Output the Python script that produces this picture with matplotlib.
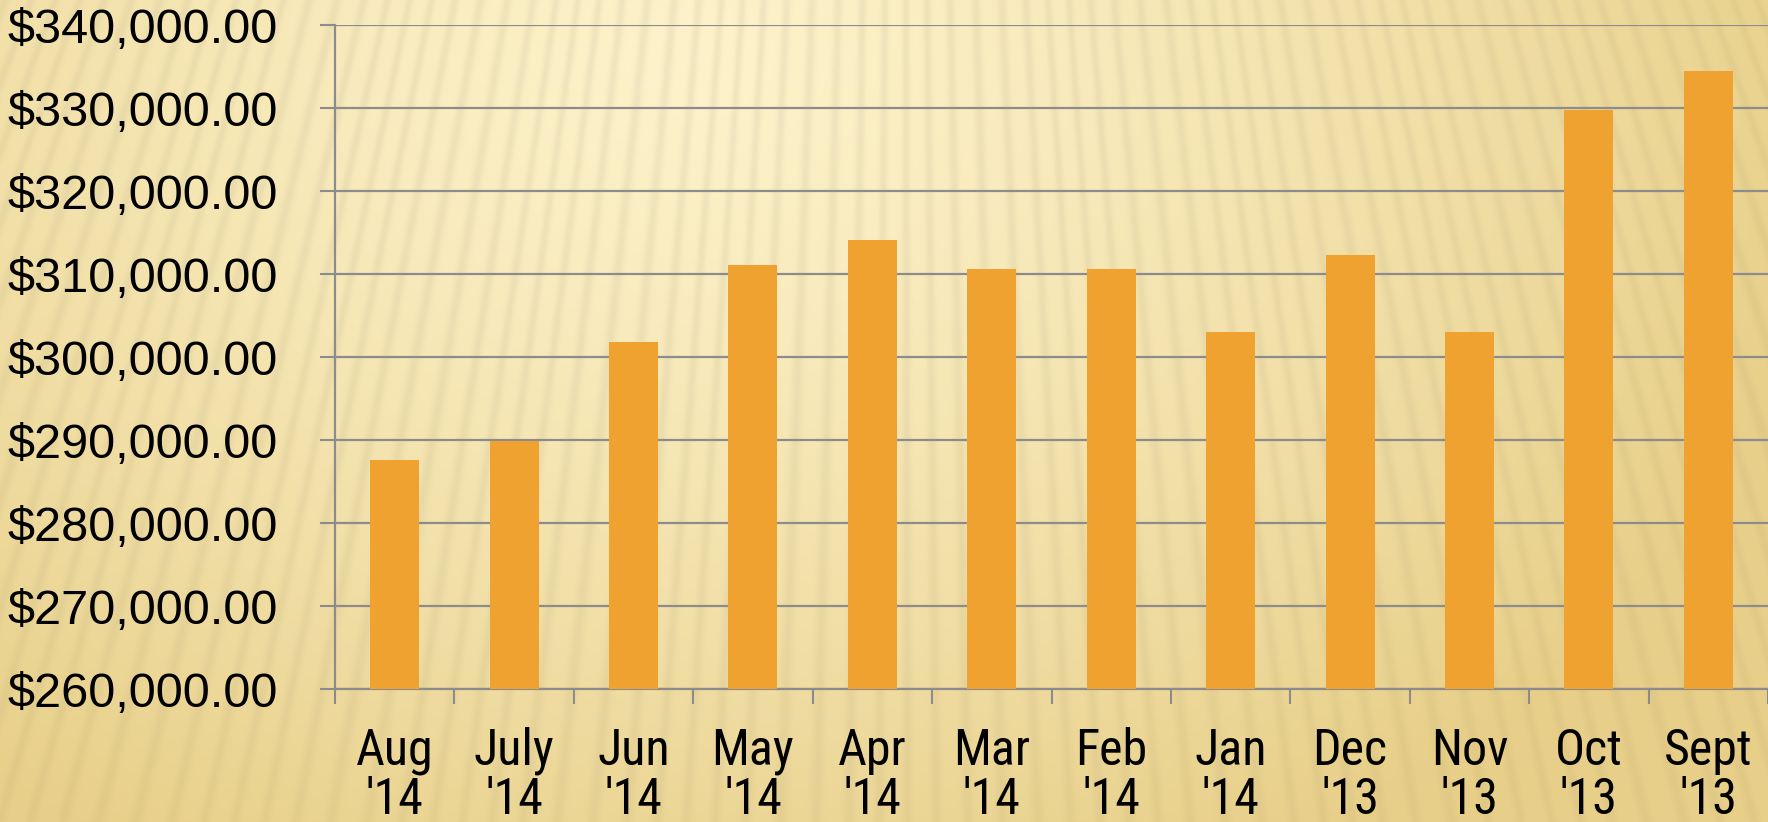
import numpy as np
import matplotlib
matplotlib.use("Agg")
import matplotlib.pyplot as plt
from matplotlib import font_manager as fm
from matplotlib.ticker import FuncFormatter

months = ["Aug\n'14", "July\n'14", "Jun\n'14", "May\n'14", "Apr\n'14", "Mar\n'14",
          "Feb\n'14", "Jan\n'14", "Dec\n'13", "Nov\n'13", "Oct\n'13", "Sept\n'13"]
values = [287550, 289880, 301770, 311040, 314130, 310640,
          310600, 303050, 312240, 303050, 329760, 334420]
y_ticks = [260000, 270000, 280000, 290000, 300000, 310000, 320000, 330000, 340000]

def pick(names):
    for n in names:
        try:
            fm.findfont(fm.FontProperties(family=n), fallback_to_default=False)
            return n
        except Exception:
            pass
    return "DejaVu Sans"

narrow = pick(["Liberation Sans Narrow", "Roboto Condensed", "Open Sans Condensed", "Liberation Sans"])
regular = pick(["Liberation Sans", "Arial", "DejaVu Sans"])

W, H = 1768, 822
fig = plt.figure(figsize=(W / 100, H / 100), dpi=100)

# background: warm glow with faint light rays
yy, xx = np.mgrid[0:H, 0:W].astype(float)
cx, cy = 700.0, 60.0
r = np.sqrt(((xx - cx) / 1150.0) ** 2 + ((yy - cy) / 900.0) ** 2)
t = np.clip(r, 0, 1) ** 1.3
light = np.array([253, 242, 202]) / 255.0
dark = np.array([232, 208, 138]) / 255.0
img = light[None, None, :] * (1 - t[..., None]) + dark[None, None, :] * t[..., None]
sx, sy = 900.0, -2300.0
theta = np.arctan2(xx - sx, yy - sy)
s = 0.5 + 0.5 * np.sin(theta * 620.0 + 0.8 * np.sin(theta * 90.0))
s = s ** 3
amp = 0.03 + 0.02 * (1 - t)
img = img * (1 - amp[..., None] * s[..., None])
bg = fig.add_axes([0, 0, 1, 1])
bg.imshow(np.clip(img, 0, 1), aspect="auto", extent=[0, 1, 0, 1], zorder=0)
bg.set_axis_off()

left = 335 / W
bottom = 1 - 689 / H
top = 1 - 25 / H
ax = fig.add_axes([left, bottom, 1 - left, top - bottom])
ax.patch.set_alpha(0)

x = np.arange(len(months))
gray = "#8c8c8c"
ax.bar(x, values, width=0.41, color="#EFA22F", zorder=3)

ax.set_ylim(260000, 340000)
ax.set_xlim(-0.5, len(months) - 0.5)
ax.set_yticks(y_ticks)
ax.yaxis.set_major_formatter(FuncFormatter(lambda v, p: "${:,.2f}".format(v)))
ax.grid(axis="y", color=gray, linewidth=1.6, zorder=1)
ax.set_axisbelow(True)

ax.set_xticks(np.arange(-0.5, len(months)), labels=[""] * (len(months) + 1))
ax.set_xticks(x, labels=months, minor=True)
ax.tick_params(axis="x", which="major", length=11, width=1.5, color=gray)
ax.tick_params(axis="x", which="minor", length=0, pad=27)
ax.tick_params(axis="y", length=11, width=1.5, color=gray, pad=30)

for lab in ax.get_xticklabels(minor=True):
    lab.set_fontfamily(narrow)
    lab.set_fontsize(36)
    lab.set_linespacing(1.03)
for lab in ax.get_yticklabels():
    lab.set_fontfamily(regular)
    lab.set_fontsize(35)

for sp in ["top", "right"]:
    ax.spines[sp].set_visible(False)
for sp in ["left", "bottom"]:
    ax.spines[sp].set_color(gray)
    ax.spines[sp].set_linewidth(1.6)

fig.savefig("out.png", dpi=100)
